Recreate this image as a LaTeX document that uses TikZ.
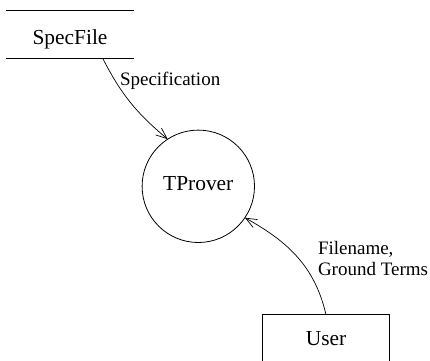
\documentclass[tikz,border=0pt]{standalone}
\usepackage{fontspec}
\setmainfont{Liberation Serif}
\newfontfamily\diagfont{Liberation Serif}
\usetikzlibrary{arrows.meta}

\begin{document}
\begin{tikzpicture}[x=1pt,y=1pt,
    every node/.style={inner sep=0pt, outer sep=0pt},
    bigtext/.style={font=\diagfont\fontsize{21.4}{25}\selectfont},
    flowlabel/.style={font=\diagfont\fontsize{19}{21}\selectfont},
    store/.style={bigtext, minimum width=128pt, minimum height=47.6pt,
                  text height=19pt, text depth=0pt},
    process/.style={bigtext, circle, draw, line width=0.8pt,
                    minimum size=112.4pt, text height=10pt, text depth=2.6pt},
    entity/.style={bigtext, draw, line width=0.8pt, minimum width=126.6pt,
                   minimum height=50.3pt, text height=10.3pt, text depth=0pt},
    flow/.style={line width=0.7pt,
                 -{Straight Barb[length=11pt,width=9pt,line width=0.7pt]}}]

  \useasboundingbox (0,0) rectangle (430,360);

  % data store: text between two horizontal rules
  \node[store] (spec) at (70,325.5) {SpecFile};
  \draw[line width=0.8pt] (spec.north west) -- (spec.north east);
  \draw[line width=0.8pt] (spec.south west) -- (spec.south east);

  % process
  \node[process] (tp) at (198.3,173.7) {TProver};

  % external entity (runs off the bottom edge)
  \node[entity] (user) at (326,20.15) {User};

  % data flows
  \draw[flow] ([xshift=-31.3pt]spec.south east) to[out=-63,in=140] (tp.123);
  \draw[flow] (user.north) to[out=103,in=-29] (tp.-34);

  % flow labels
  \node[flowlabel, anchor=base west] (lspec) at (120,275) {Specification};
  \node[flowlabel, anchor=west, align=left] (luser) at (318,102)
       {Filename,\\Ground Terms};
\end{tikzpicture}
\end{document}
